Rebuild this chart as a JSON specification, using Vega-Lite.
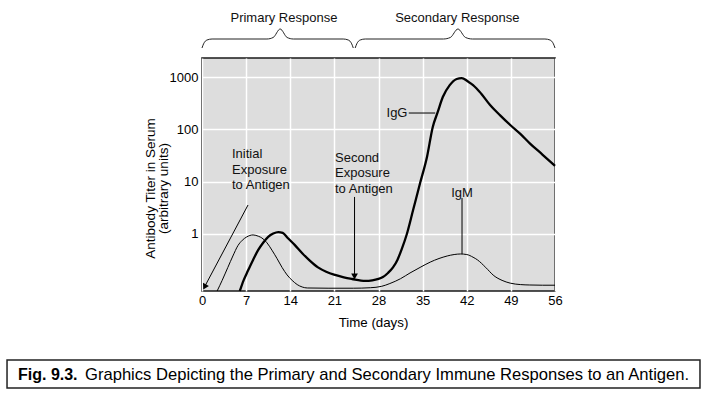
{
  "$schema": "https://vega.github.io/schema/vega-lite/v6.json",
  "width": 353,
  "height": 233,
  "autosize": "none",
  "padding": {"left": 202, "top": 58, "right": 153, "bottom": 105},
  "background": "white",
  "config": {
    "font": "Liberation Sans",
    "view": {"fill": "#dddddd", "stroke": "#1a1a1a", "strokeWidth": 1.6}
  },
  "datasets": {
    "curves": [
      {"series": "IgM", "day": 2.4, "titer": 0.0814},
      {"series": "IgM", "day": 3.2, "titer": 0.13},
      {"series": "IgM", "day": 4.1, "titer": 0.23},
      {"series": "IgM", "day": 4.9, "titer": 0.38},
      {"series": "IgM", "day": 5.7, "titer": 0.6},
      {"series": "IgM", "day": 6.4, "titer": 0.76},
      {"series": "IgM", "day": 7.1, "titer": 0.88},
      {"series": "IgM", "day": 8.1, "titer": 0.96},
      {"series": "IgM", "day": 9.0, "titer": 0.9},
      {"series": "IgM", "day": 9.5, "titer": 0.84},
      {"series": "IgM", "day": 10.3, "titer": 0.68},
      {"series": "IgM", "day": 11.1, "titer": 0.49},
      {"series": "IgM", "day": 11.9, "titer": 0.34},
      {"series": "IgM", "day": 12.7, "titer": 0.23},
      {"series": "IgM", "day": 13.5, "titer": 0.165},
      {"series": "IgM", "day": 14.3, "titer": 0.13},
      {"series": "IgM", "day": 15.1, "titer": 0.108},
      {"series": "IgM", "day": 15.9, "titer": 0.097},
      {"series": "IgM", "day": 16.7, "titer": 0.093},
      {"series": "IgM", "day": 20.0, "titer": 0.092},
      {"series": "IgM", "day": 24.0, "titer": 0.092},
      {"series": "IgM", "day": 26.7, "titer": 0.094},
      {"series": "IgM", "day": 28.5, "titer": 0.1},
      {"series": "IgM", "day": 29.8, "titer": 0.113},
      {"series": "IgM", "day": 31.5, "titer": 0.14},
      {"series": "IgM", "day": 33.0, "titer": 0.18},
      {"series": "IgM", "day": 34.6, "titer": 0.23},
      {"series": "IgM", "day": 36.2, "titer": 0.29},
      {"series": "IgM", "day": 37.6, "titer": 0.34},
      {"series": "IgM", "day": 38.9, "titer": 0.38},
      {"series": "IgM", "day": 40.0, "titer": 0.405},
      {"series": "IgM", "day": 41.0, "titer": 0.415},
      {"series": "IgM", "day": 42.0, "titer": 0.405},
      {"series": "IgM", "day": 43.0, "titer": 0.36},
      {"series": "IgM", "day": 43.7, "titer": 0.32},
      {"series": "IgM", "day": 45.0, "titer": 0.23},
      {"series": "IgM", "day": 46.3, "titer": 0.16},
      {"series": "IgM", "day": 47.6, "titer": 0.13},
      {"series": "IgM", "day": 48.9, "titer": 0.115},
      {"series": "IgM", "day": 50.5, "titer": 0.108},
      {"series": "IgM", "day": 52.0, "titer": 0.106},
      {"series": "IgM", "day": 54.0, "titer": 0.105},
      {"series": "IgM", "day": 56.0, "titer": 0.105},
      {"series": "IgG", "day": 6.0, "titer": 0.0814},
      {"series": "IgG", "day": 6.6, "titer": 0.13},
      {"series": "IgG", "day": 7.3, "titer": 0.2},
      {"series": "IgG", "day": 8.1, "titer": 0.32},
      {"series": "IgG", "day": 8.9, "titer": 0.49},
      {"series": "IgG", "day": 9.7, "titer": 0.68},
      {"series": "IgG", "day": 10.5, "titer": 0.88},
      {"series": "IgG", "day": 11.3, "titer": 1.02},
      {"series": "IgG", "day": 12.1, "titer": 1.09},
      {"series": "IgG", "day": 12.8, "titer": 1.05},
      {"series": "IgG", "day": 13.6, "titer": 0.84},
      {"series": "IgG", "day": 14.7, "titer": 0.62},
      {"series": "IgG", "day": 15.9, "titer": 0.43},
      {"series": "IgG", "day": 17.1, "titer": 0.31},
      {"series": "IgG", "day": 18.4, "titer": 0.23},
      {"series": "IgG", "day": 19.7, "titer": 0.19},
      {"series": "IgG", "day": 21.1, "titer": 0.165},
      {"series": "IgG", "day": 22.5, "titer": 0.148},
      {"series": "IgG", "day": 23.8, "titer": 0.138},
      {"series": "IgG", "day": 25.9, "titer": 0.127},
      {"series": "IgG", "day": 27.0, "titer": 0.13},
      {"series": "IgG", "day": 28.7, "titer": 0.15},
      {"series": "IgG", "day": 29.5, "titer": 0.18},
      {"series": "IgG", "day": 30.3, "titer": 0.23},
      {"series": "IgG", "day": 31.0, "titer": 0.32},
      {"series": "IgG", "day": 31.7, "titer": 0.52},
      {"series": "IgG", "day": 32.5, "titer": 1.0},
      {"series": "IgG", "day": 33.5, "titer": 2.9},
      {"series": "IgG", "day": 34.6, "titer": 9.4},
      {"series": "IgG", "day": 35.7, "titer": 30},
      {"series": "IgG", "day": 36.6, "titer": 110},
      {"series": "IgG", "day": 37.4, "titer": 215},
      {"series": "IgG", "day": 38.2, "titer": 415},
      {"series": "IgG", "day": 39.3, "titer": 700},
      {"series": "IgG", "day": 40.4, "titer": 915},
      {"series": "IgG", "day": 41.2, "titer": 955},
      {"series": "IgG", "day": 42.2, "titer": 820},
      {"series": "IgG", "day": 43.0, "titer": 703},
      {"series": "IgG", "day": 44.3, "titer": 480},
      {"series": "IgG", "day": 45.7, "titer": 292},
      {"series": "IgG", "day": 47.3, "titer": 185},
      {"series": "IgG", "day": 48.9, "titer": 121},
      {"series": "IgG", "day": 50.5, "titer": 82},
      {"series": "IgG", "day": 52.0, "titer": 54},
      {"series": "IgG", "day": 54.0, "titer": 33},
      {"series": "IgG", "day": 56.0, "titer": 20}
    ],
    "braces": [
      {"brace": "Primary", "day": 0, "titer": 3585},
      {"brace": "Primary", "day": 0.25, "titer": 4300},
      {"brace": "Primary", "day": 0.8, "titer": 5097},
      {"brace": "Primary", "day": 1.6, "titer": 5325},
      {"brace": "Primary", "day": 10.3, "titer": 5325},
      {"brace": "Primary", "day": 11.3, "titer": 5700},
      {"brace": "Primary", "day": 12.4, "titer": 8266},
      {"brace": "Primary", "day": 13.5, "titer": 5700},
      {"brace": "Primary", "day": 14.5, "titer": 5325},
      {"brace": "Primary", "day": 22.4, "titer": 5325},
      {"brace": "Primary", "day": 23.2, "titer": 5097},
      {"brace": "Primary", "day": 23.75, "titer": 4300},
      {"brace": "Primary", "day": 24.0, "titer": 3585},
      {"brace": "Secondary", "day": 24.3, "titer": 3585},
      {"brace": "Secondary", "day": 24.55, "titer": 4300},
      {"brace": "Secondary", "day": 25.1, "titer": 5097},
      {"brace": "Secondary", "day": 25.9, "titer": 5325},
      {"brace": "Secondary", "day": 38.3, "titer": 5325},
      {"brace": "Secondary", "day": 39.4, "titer": 5700},
      {"brace": "Secondary", "day": 40.6, "titer": 8266},
      {"brace": "Secondary", "day": 41.8, "titer": 5700},
      {"brace": "Secondary", "day": 42.9, "titer": 5325},
      {"brace": "Secondary", "day": 54.4, "titer": 5325},
      {"brace": "Secondary", "day": 55.2, "titer": 5097},
      {"brace": "Secondary", "day": 55.75, "titer": 4300},
      {"brace": "Secondary", "day": 56.0, "titer": 3585}
    ],
    "braceLabels": [
      {"day": 13.0, "titer": 11250, "text": "Primary Response"},
      {"day": 40.5, "titer": 11250, "text": "Secondary Response"}
    ],
    "arrowLines": [
      {"day": 7.3, "titer": 3.58, "day2": 0.45, "titer2": 0.1},
      {"day": 24.2, "titer": 5.1, "day2": 24.2, "titer2": 0.16}
    ],
    "headInitial": [{"day": 0.41, "titer": 0.0975}],
    "headSecond": [{"day": 24.2, "titer": 0.154}],
    "pointers": [
      {"day": 32.8, "titer": 205, "day2": 37.0, "titer2": 205},
      {"day": 41.25, "titer": 4.88, "day2": 41.25, "titer2": 0.415}
    ],
    "exposureLabels": [
      {"day": 4.76, "titer": 28.3, "text": "Initial\nExposure\nto Antigen"},
      {"day": 21.1, "titer": 23.8, "text": "Second\nExposure\nto Antigen"}
    ],
    "igg": [{"day": 32.6, "titer": 205, "text": "IgG"}],
    "igm": [{"day": 41.25, "titer": 5.1, "text": "IgM"}],
    "captionBox": [{"day": -30.93, "titer": 0.00391, "day2": 79.0, "titer2": 0.00114}],
    "captionBold": [{"day": -29.19, "titer": 0.00162, "text": "Fig. 9.3."}],
    "captionText": [{"day": -18.56, "titer": 0.00162, "text": "Graphics Depicting the Primary and Secondary Immune Responses to an Antigen."}]
  },
  "encoding": {
    "x": {
      "field": "day",
      "type": "quantitative",
      "title": "Time (days)",
      "scale": {"domain": [0, 56], "nice": false, "zero": false},
      "axis": {
        "values": [0, 7, 14, 21, 28, 35, 42, 49, 56],
        "grid": true,
        "gridColor": "white",
        "gridWidth": 1.5,
        "gridOpacity": 1,
        "ticks": false,
        "domain": false,
        "labelFontSize": 13,
        "labelColor": "black",
        "labelPadding": 3,
        "labelFlush": false,
        "titleFontSize": 13.3,
        "titleFontWeight": "normal",
        "titleColor": "black",
        "titleX": 171,
        "titleY": 31,
        "titleBaseline": "middle"
      }
    },
    "y": {
      "field": "titer",
      "type": "quantitative",
      "title": ["Antibody Titer in Serum", "(arbitrary units)"],
      "scale": {"type": "log", "domain": [0.0814, 2308], "nice": false},
      "axis": {
        "values": [1, 10, 100, 1000],
        "format": "d",
        "grid": true,
        "gridColor": "white",
        "gridWidth": 1.5,
        "gridOpacity": 1,
        "ticks": false,
        "domain": false,
        "labelFontSize": 13,
        "labelColor": "black",
        "labelPadding": 4,
        "titleFontSize": 13.5,
        "titleFontWeight": "normal",
        "titleColor": "black",
        "titleAngle": -90,
        "titleX": -45,
        "titleY": 130,
        "titleBaseline": "bottom",
        "titleLineHeight": 13
      }
    }
  },
  "layer": [
    {
      "data": {"name": "curves"},
      "mark": {"type": "line", "interpolate": "monotone", "color": "black"},
      "encoding": {
        "strokeWidth": {
          "field": "series",
          "type": "nominal",
          "scale": {"domain": ["IgG", "IgM"], "range": [2.3, 1]},
          "legend": null
        },
        "order": {"field": "day", "type": "quantitative"}
      }
    },
    {
      "data": {"name": "braces"},
      "mark": {"type": "line", "interpolate": "monotone", "color": "#222", "strokeWidth": 1},
      "encoding": {
        "detail": {"field": "brace", "type": "nominal"},
        "order": {"field": "day", "type": "quantitative"}
      }
    },
    {
      "data": {"name": "braceLabels"},
      "mark": {"type": "text", "align": "center", "baseline": "alphabetic", "fontSize": 13, "color": "#111"},
      "encoding": {"text": {"field": "text", "type": "nominal"}}
    },
    {
      "data": {"name": "arrowLines"},
      "mark": {"type": "rule", "color": "black", "strokeWidth": 1},
      "encoding": {
        "x2": {"field": "day2"},
        "y2": {"field": "titer2"}
      }
    },
    {
      "data": {"name": "headInitial"},
      "mark": {"type": "point", "shape": "triangle-down", "filled": true, "color": "black", "opacity": 1, "size": 45, "angle": 28},
      "encoding": {}
    },
    {
      "data": {"name": "headSecond"},
      "mark": {"type": "point", "shape": "triangle-down", "filled": true, "color": "black", "opacity": 1, "size": 45, "angle": 0},
      "encoding": {}
    },
    {
      "data": {"name": "pointers"},
      "mark": {"type": "rule", "color": "black", "strokeWidth": 1},
      "encoding": {
        "x2": {"field": "day2"},
        "y2": {"field": "titer2"}
      }
    },
    {
      "data": {"name": "exposureLabels"},
      "mark": {"type": "text", "align": "left", "baseline": "alphabetic", "fontSize": 13, "lineBreak": "\n", "lineHeight": 15.5, "color": "#111"},
      "encoding": {"text": {"field": "text", "type": "nominal"}}
    },
    {
      "data": {"name": "igg"},
      "mark": {"type": "text", "align": "right", "baseline": "middle", "fontSize": 13, "color": "#111"},
      "encoding": {"text": {"field": "text", "type": "nominal"}}
    },
    {
      "data": {"name": "igm"},
      "mark": {"type": "text", "align": "center", "baseline": "alphabetic", "fontSize": 13, "color": "#111"},
      "encoding": {"text": {"field": "text", "type": "nominal"}}
    },
    {
      "data": {"name": "captionBox"},
      "mark": {"type": "rect", "fill": "white", "fillOpacity": 0, "stroke": "#222", "strokeWidth": 1.5},
      "encoding": {
        "x2": {"field": "day2"},
        "y2": {"field": "titer2"}
      }
    },
    {
      "data": {"name": "captionBold"},
      "mark": {"type": "text", "align": "left", "baseline": "alphabetic", "fontSize": 16, "fontWeight": "bold", "color": "black"},
      "encoding": {"text": {"field": "text", "type": "nominal"}}
    },
    {
      "data": {"name": "captionText"},
      "mark": {"type": "text", "align": "left", "baseline": "alphabetic", "fontSize": 16.6, "color": "black"},
      "encoding": {"text": {"field": "text", "type": "nominal"}}
    }
  ]
}
